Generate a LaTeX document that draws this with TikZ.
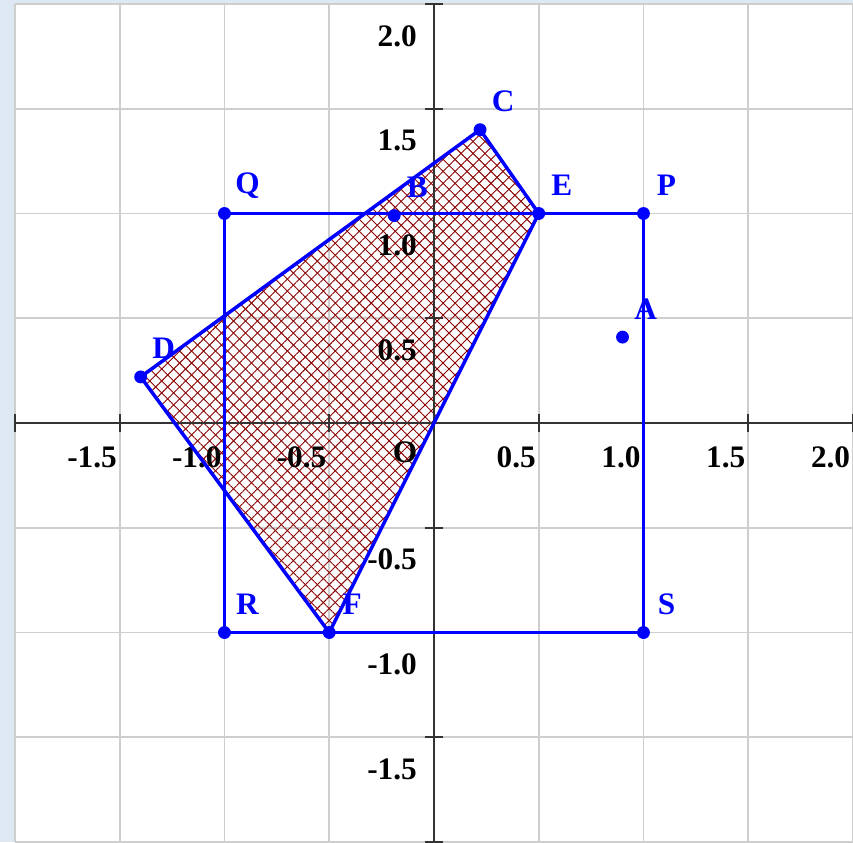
\documentclass[tikz,border=0pt]{standalone}
\usepackage{fontspec}
\setmainfont{Liberation Serif}
\usetikzlibrary{patterns.meta}
\definecolor{panelblue}{RGB}{221,232,243}
\definecolor{hatchred}{RGB}{139,0,0}
\definecolor{gridgray}{RGB}{206,206,206}
\definecolor{axisgray}{RGB}{51,51,51}

\begin{document}
\begin{tikzpicture}[
    x=4cm, y=4cm,
    gridline/.style={draw=gridgray, line width=1pt},
    axisline/.style={draw=axisgray, line width=1pt},
    edge/.style={draw=blue, line width=1.9pt, line join=round},
    hatch/.style={pattern={Lines[angle=#1, distance=4.6pt, line width=0.5pt]}, pattern color=hatchred},
    dot/.style={circle, fill=blue, inner sep=0pt, minimum size=7pt},
    ptlabel/.style={text=blue, font=\bfseries\fontsize{17}{19}\selectfont, inner sep=0pt},
    ticklabel/.style={text=black, font=\bfseries\fontsize{17}{19}\selectfont, inner sep=0pt, anchor=east}
]

\useasboundingbox (-2.0714,-2) rectangle (2,2.019);
\fill[panelblue] (-2.0714,-2) rectangle (2,2.019);
\fill[white] (-2,-2) rectangle (2,2);

% grid
\foreach \g in {-2,-1.5,...,2} {
    \draw[gridline] (\g,-2) -- (\g,2);
    \draw[gridline] (-2,\g) -- (2,\g);
}

\coordinate (O) at (0,0);
\coordinate (P) at (1,1);
\coordinate (Q) at (-1,1);
\coordinate (R) at (-1,-1);
\coordinate (S) at (1,-1);
\coordinate (C) at (0.22,1.4);
\coordinate (D) at (-1.4,0.22);
\coordinate (E) at (0.5,1);
\coordinate (F) at (-0.5,-1);
\coordinate (B) at (-0.19,0.99);
\coordinate (A) at (0.9,0.41);

% hatched region
\fill[hatch=45] (D) -- (C) -- (E) -- (F) -- cycle;
\fill[hatch=-45] (D) -- (C) -- (E) -- (F) -- cycle;

% axes
\draw[axisline] (-2,0) -- (2,0);
\draw[axisline] (0,-2) -- (0,2);
\foreach \t in {-2,-1.5,-1,-0.5,0.5,1,1.5,2} {
    \draw[axisline] (\t,-0.043) -- (\t,0.043);
    \draw[axisline] (-0.043,\t) -- (0.043,\t);
}
\foreach \t/\s [count=\i] in {-1.5/-1.5,-1/-1.0,-0.5/-0.5,0.5/0.5,1/1.0,1.5/1.5,2/2.0}
    \node[ticklabel] (xtick\i) at (\t-0.012,-0.162) {\s};
\foreach \t/\s [count=\i] in {2/2.0,1.5/1.5,1/1.0,0.5/0.5,-0.5/-0.5,-1/-1.0,-1.5/-1.5}
    \node[ticklabel] (ytick\i) at (-0.08,\t-0.152) {\s};
\node[ticklabel, anchor=center] (labO) at ([shift={(-0.138,-0.138)}]O) {O};

% square and quadrilateral
\draw[edge] (P) -- (Q) -- (R) -- (S) -- cycle;
\draw[edge] (D) -- (C) -- (E) -- (F) -- cycle;

\foreach \p in {P,Q,R,S,A,B,C,D,E,F} {
    \node[dot] (dot\p) at (\p) {};
    \node[ptlabel] (lab\p) at ([shift={(0.11,0.135)}]\p) {\p};
}

\end{tikzpicture}
\end{document}
